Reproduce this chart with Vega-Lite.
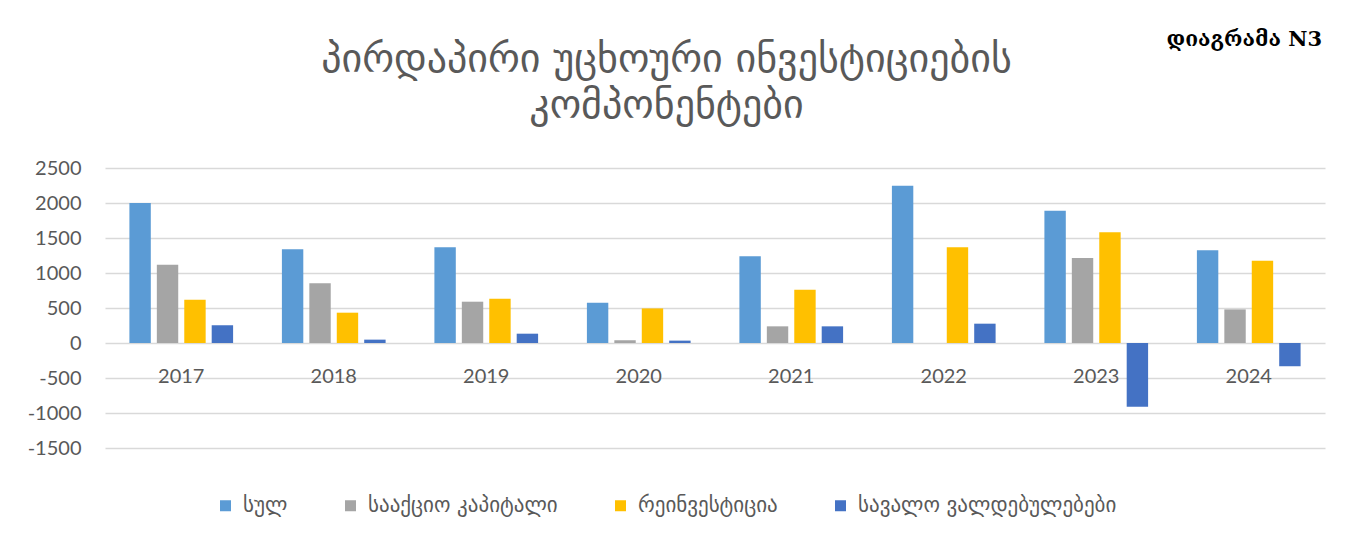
{
  "$schema": "https://vega.github.io/schema/vega-lite/v6.json",
  "width": 1220,
  "height": 280,
  "autosize": "none",
  "padding": {"left": 105, "top": 168, "right": 36, "bottom": 90},
  "background": "white",
  "title": {
    "text": "დიაგრამა N3",
    "anchor": "end",
    "frame": "group",
    "dx": -3,
    "font": "DejaVu Serif",
    "fontSize": 21,
    "fontWeight": "bold",
    "color": "#000000",
    "offset": -11
  },
  "data": {
    "values": [
      {"year": "2017", "series": "სულ", "value": 2000},
      {"year": "2017", "series": "სააქციო კაპიტალი", "value": 1117},
      {"year": "2017", "series": "რეინვესტიცია", "value": 618},
      {"year": "2017", "series": "სავალო ვალდებულებები", "value": 252},
      {"year": "2018", "series": "სულ", "value": 1339},
      {"year": "2018", "series": "სააქციო კაპიტალი", "value": 855},
      {"year": "2018", "series": "რეინვესტიცია", "value": 433},
      {"year": "2018", "series": "სავალო ვალდებულებები", "value": 48},
      {"year": "2019", "series": "სულ", "value": 1368},
      {"year": "2019", "series": "სააქციო კაპიტალი", "value": 590},
      {"year": "2019", "series": "რეინვესტიცია", "value": 632},
      {"year": "2019", "series": "სავალო ვალდებულებები", "value": 133},
      {"year": "2020", "series": "სულ", "value": 575},
      {"year": "2020", "series": "სააქციო კაპიტალი", "value": 38},
      {"year": "2020", "series": "რეინვესტიცია", "value": 494},
      {"year": "2020", "series": "სავალო ვალდებულებები", "value": 34},
      {"year": "2021", "series": "სულ", "value": 1240},
      {"year": "2021", "series": "სააქციო კაპიტალი", "value": 238},
      {"year": "2021", "series": "რეინვესტიცია", "value": 760},
      {"year": "2021", "series": "სავალო ვალდებულებები", "value": 238},
      {"year": "2022", "series": "სულ", "value": 2246},
      {"year": "2022", "series": "სააქციო კაპიტალი", "value": 0},
      {"year": "2022", "series": "რეინვესტიცია", "value": 1368},
      {"year": "2022", "series": "სავალო ვალდებულებები", "value": 276},
      {"year": "2023", "series": "სულ", "value": 1890},
      {"year": "2023", "series": "სააქციო კაპიტალი", "value": 1216},
      {"year": "2023", "series": "რეინვესტიცია", "value": 1581},
      {"year": "2023", "series": "სავალო ვალდებულებები", "value": -912},
      {"year": "2024", "series": "სულ", "value": 1325},
      {"year": "2024", "series": "სააქციო კაპიტალი", "value": 480},
      {"year": "2024", "series": "რეინვესტიცია", "value": 1174},
      {"year": "2024", "series": "სავალო ვალდებულებები", "value": -332}
    ]
  },
  "mark": {"type": "bar"},
  "encoding": {
    "x": {
      "field": "year",
      "type": "nominal",
      "scale": {"paddingInner": 0.32, "paddingOuter": 0.16},
      "axis": {
        "title": null,
        "offset": -80,
        "labelPadding": 8,
        "labelBaseline": "middle",
        "labelAngle": 0,
        "labelFont": "Lato",
        "labelFontSize": 20,
        "labelColor": "#595959",
        "domain": false,
        "ticks": false,
        "grid": false
      }
    },
    "xOffset": {
      "field": "series",
      "type": "nominal",
      "sort": ["სულ", "სააქციო კაპიტალი", "რეინვესტიცია", "სავალო ვალდებულებები"],
      "scale": {"paddingInner": 0.22, "paddingOuter": 0}
    },
    "y": {
      "field": "value",
      "type": "quantitative",
      "scale": {"domain": [-1500, 2500], "nice": false, "zero": true},
      "axis": {
        "values": [-1500, -1000, -500, 0, 500, 1000, 1500, 2000, 2500],
        "labelExpr": "'' + datum.value",
        "domain": false,
        "ticks": false,
        "labelPadding": 24,
        "labelFont": "Lato",
        "labelFontSize": 20,
        "labelColor": "#595959",
        "gridColor": "#d9d9d9",
        "gridWidth": 1.5,
        "title": ["პირდაპირი უცხოური ინვესტიციების", "კომპონენტები"],
        "titleAngle": 0,
        "titleX": 561,
        "titleY": -109,
        "titleAlign": "center",
        "titleBaseline": "middle",
        "titleFont": "DejaVu Sans",
        "titleFontSize": 40,
        "titleFontWeight": "normal",
        "titleLineHeight": 46,
        "titleColor": "#595959"
      }
    },
    "color": {
      "field": "series",
      "type": "nominal",
      "sort": ["სულ", "სააქციო კაპიტალი", "რეინვესტიცია", "სავალო ვალდებულებები"],
      "scale": {
        "domain": ["სულ", "სააქციო კაპიტალი", "რეინვესტიცია", "სავალო ვალდებულებები"],
        "range": ["#5B9BD5", "#A5A5A5", "#FFC000", "#4472C4"]
      },
      "legend": {
        "title": null,
        "orient": "none",
        "direction": "horizontal",
        "legendX": 110,
        "legendY": 327,
        "symbolType": "square",
        "symbolSize": 121,
        "symbolStrokeWidth": 0,
        "labelFont": "DejaVu Sans",
        "labelFontSize": 21,
        "labelColor": "#595959",
        "labelOffset": 7,
        "labelLimit": 400,
        "columnPadding": 52
      }
    }
  },
  "config": {"view": {"stroke": null}}
}
